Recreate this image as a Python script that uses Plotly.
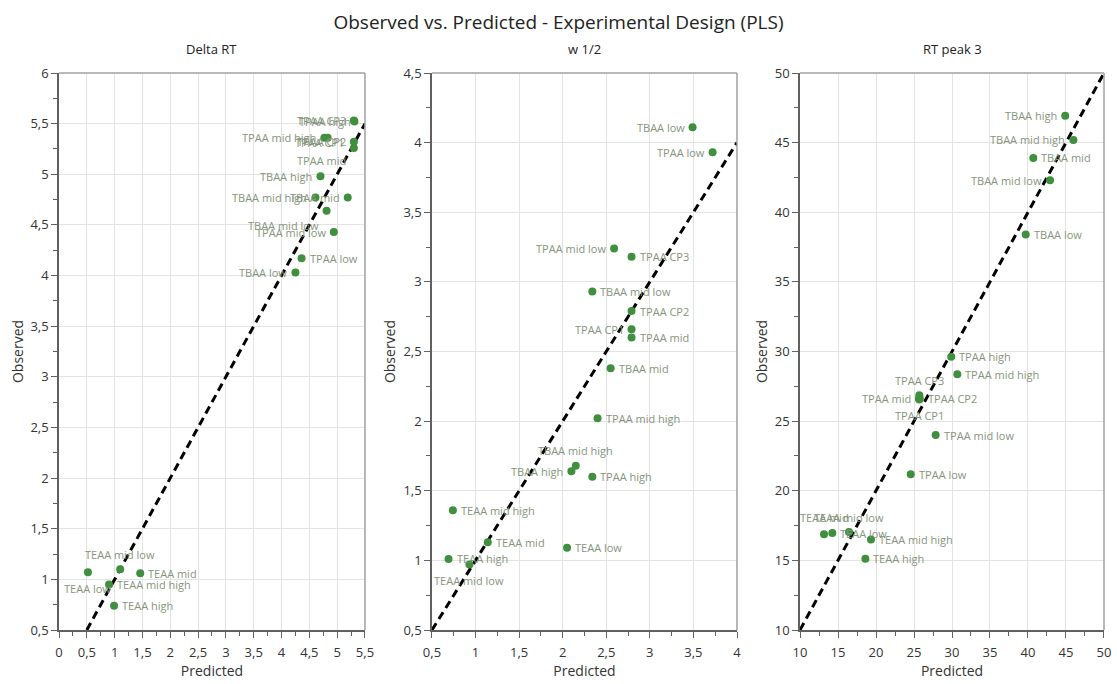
import plotly.graph_objects as go

# Sample names (same order for all three responses)
samples = [
    "TEAA low", "TEAA mid low", "TEAA mid", "TEAA mid high", "TEAA high",
    "TBAA low", "TBAA mid low", "TBAA mid", "TBAA mid high", "TBAA high",
    "TPAA low", "TPAA mid low", "TPAA mid", "TPAA mid high", "TPAA high",
    "TPAA CP1", "TPAA CP2", "TPAA CP3",
]

# Delta RT
delta_rt_pred = [0.52, 1.10, 1.46, 0.90, 0.99,
                 4.25, 4.81, 5.19, 4.61, 4.70,
                 4.36, 4.94, 5.30, 4.77, 5.31,
                 4.83, 5.30, 5.30]
delta_rt_obs = [1.07, 1.10, 1.06, 0.95, 0.74,
                4.03, 4.64, 4.77, 4.77, 4.98,
                4.17, 4.43, 5.26, 5.36, 5.52,
                5.36, 5.32, 5.53]

# w 1/2
w_half_pred = [2.05, 0.93, 1.14, 0.74, 0.69,
               3.49, 2.34, 2.55, 2.15, 2.10,
               3.72, 2.59, 2.79, 2.40, 2.34,
               2.79, 2.79, 2.79]
w_half_obs = [1.09, 0.97, 1.13, 1.36, 1.01,
              4.11, 2.93, 2.38, 1.68, 1.64,
              3.93, 3.24, 2.60, 2.02, 1.60,
              2.66, 2.79, 3.18]

# RT peak 3
rt3_pred = [14.25, 16.45, 13.16, 19.34, 18.60,
            39.70, 42.90, 40.70, 45.97, 44.90,
            24.57, 27.85, 25.65, 30.70, 29.90,
            25.70, 25.75, 25.70]
rt3_obs = [16.96, 17.03, 16.87, 16.50, 15.12,
           38.40, 42.30, 43.90, 45.19, 46.93,
           21.19, 24.00, 26.60, 28.36, 29.63,
           26.55, 26.65, 26.85]

panel_titles = ["Delta RT", "w 1/2", "RT peak 3"]

# Axis limits (also the ends of the 1:1 reference line)
x_limits = [(0, 5.5), (0.5, 4), (10, 50)]
y_limits = [(0.5, 6), (0.5, 4.5), (10, 50)]
diag_limits = [(0.5, 5.5), (0.5, 4), (10, 50)]
major_steps = [0.5, 0.5, 5]

# label placement: (xanchor, xshift, yshift)
L = ("right", -6, 0)
R = ("left", 6, 0)
T = ("center", 0, 15)
B = ("center", 0, -16)
placements = [
    [B, T, R, R, R,
     L, ("right", -6, -15), L, L, L,
     R, L, ("right", -6, -13), L, ("right", -1, 0),
     ("right", 18, -5), L, L],
    [R, B, R, R, R,
     L, R, R, T, L,
     L, L, R, R, R,
     L, R, R],
    [R, T, ("center", 0, 17), R, R,
     R, L, R, L, L,
     R, R, L, R, R,
     B, R, T],
]

panels = [
    (delta_rt_pred, delta_rt_obs),
    (w_half_pred, w_half_obs),
    (rt3_pred, rt3_obs),
]

domains = [(0.0, 0.2928), (0.3569, 0.6488), (0.7091, 1.0)]

FONT = "Open Sans"
POINT_COLOR = "#3f8f3f"
LABEL_COLOR = "#86947c"
TEXT_COLOR = "#333333"

fig = go.Figure()
annotations = []
shapes = []

for i, (pred, obs) in enumerate(panels):
    sfx = "" if i == 0 else str(i + 1)
    xa, ya = "x" + sfx, "y" + sfx
    d0, d1 = diag_limits[i]
    fig.add_trace(go.Scatter(
        x=[d0, d1], y=[d0, d1], mode="lines",
        line=dict(color="black", width=3, dash="8px,5px"),
        xaxis=xa, yaxis=ya, hoverinfo="skip", showlegend=False,
    ))
    fig.add_trace(go.Scatter(
        x=pred, y=obs, mode="markers", text=samples,
        marker=dict(color=POINT_COLOR, size=8),
        xaxis=xa, yaxis=ya, showlegend=False,
    ))
    for name, px, oy, (anc, xs, ys) in zip(samples, pred, obs, placements[i]):
        annotations.append(dict(
            x=px, y=oy, xref=xa, yref=ya, text=name, showarrow=False,
            xanchor=anc, yanchor="middle", xshift=xs, yshift=ys,
            font=dict(family=FONT, size=11, color=LABEL_COLOR),
        ))
    axis_common = dict(
        showgrid=True, gridcolor="#e3e3e3", gridwidth=1,
        showline=True, linecolor="#606060", linewidth=1.5,
        ticks="outside", ticklen=6, tickcolor="#606060",
        tickfont=dict(family=FONT, size=13, color=TEXT_COLOR),
        zeroline=False, automargin=False,
        minor=dict(dtick=major_steps[i] / 2, ticks="outside", ticklen=4,
                   tickcolor="#606060", showgrid=False),
    )
    fig.layout["xaxis" + sfx] = dict(
        axis_common, domain=domains[i], range=list(x_limits[i]),
        dtick=major_steps[i], tick0=x_limits[i][0], anchor=ya,
        ticklabelstandoff=4,
        title=dict(text="Predicted", font=dict(family=FONT, size=14, color=TEXT_COLOR),
                   standoff=6),
    )
    fig.layout["yaxis" + sfx] = dict(
        axis_common, domain=[0, 1], range=list(y_limits[i]),
        dtick=major_steps[i], tick0=y_limits[i][0], anchor=xa,
        title=dict(text="Observed", font=dict(family=FONT, size=14, color=TEXT_COLOR),
                   standoff=4),
    )
    # top and right frame lines
    shapes.append(dict(type="line", xref=xa + " domain", yref=ya + " domain",
                       x0=0, x1=1, y0=1, y1=1, line=dict(color="#a0a0a0", width=1.5)))
    shapes.append(dict(type="line", xref=xa + " domain", yref=ya + " domain",
                       x0=1, x1=1, y0=0, y1=1, line=dict(color="#a0a0a0", width=1.5)))
    annotations.append(dict(
        x=(domains[i][0] + domains[i][1]) / 2, y=1.043, xref="paper", yref="paper",
        text=panel_titles[i], showarrow=False, xanchor="center", yanchor="middle",
        font=dict(family=FONT, size=13, color="#222222"),
    ))

fig.update_layout(
    width=1117, height=684,
    margin=dict(l=59, r=13, t=73, b=54),
    paper_bgcolor="white", plot_bgcolor="white",
    separators=", ",
    title=dict(text="Observed vs. Predicted - Experimental Design (PLS)",
               x=0.5, xanchor="center", y=0.968, yanchor="middle",
               font=dict(family=FONT, size=19, color="#222222")),
    annotations=annotations,
    shapes=shapes,
)

fig.write_html("out.html")
